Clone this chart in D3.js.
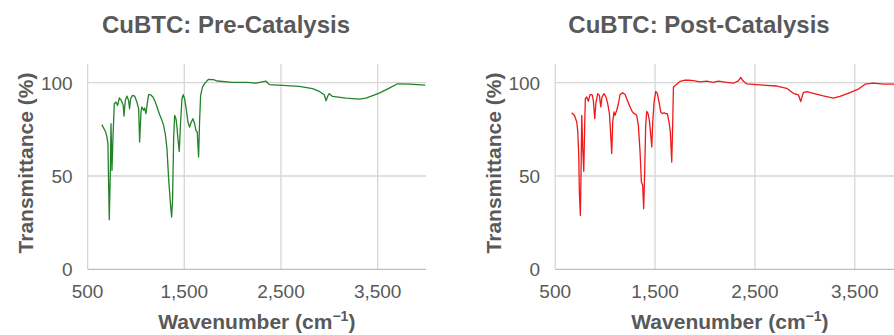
<!DOCTYPE html>
<html lang="en">
<head>
  <meta charset="UTF-8">
  <title>CuBTC FTIR</title>
  <script src="https://d3js.org/d3.v7.min.js"></script>
  <style>
    body { margin: 0; background: #fff; }
    svg { display: block; font-family: "Liberation Sans", Arial, sans-serif; }
    .grid line { stroke: #d6d6d6; stroke-width: 1.3; }
    .tick-label { fill: #595959; font-size: 19px; }
    .title { fill: #595959; font-size: 24px; font-weight: bold; }
    .axis-title { fill: #595959; font-size: 21px; font-weight: bold; }
  </style>
</head>
<body>
  <svg id="chart" width="894" height="335"></svg>

  <script>
    // tick values
    const xTicks = [500, 1500, 2500, 3500];
    const yTicks = [0, 50, 100];

    // Pre-catalysis spectrum (wavenumber, transmittance)
    const wnPre = [648, 683, 700, 710, 724, 735, 742, 752, 762, 776, 793, 810, 828, 848, 868, 876, 890, 907, 924, 934,
      945, 965, 986, 1010, 1028, 1038, 1052, 1062, 1079, 1090, 1103, 1115, 1131, 1148, 1176, 1200, 1224, 1245, 1269, 1286,
      1303, 1321, 1338, 1358, 1369, 1379, 1390, 1400, 1414, 1424, 1434, 1448, 1462, 1476, 1489, 1503, 1520, 1538, 1555, 1572,
      1589, 1607, 1620, 1634, 1648, 1658, 1669, 1689, 1717, 1751, 1803, 1838, 2000, 2155, 2241, 2345, 2379, 2517, 2689, 2827,
      2896, 2948, 2966, 2986, 2999, 3034, 3172, 3310, 3379, 3517, 3620, 3706, 3827, 3992];
    const tPre = [77.5, 74, 71, 67.3, 26.5, 52, 78, 53, 70, 88.7, 89.6, 87.8, 91.8, 90.5, 88, 82.1, 90.5, 92.8, 90.5, 86,
      91.4, 93.2, 92.8, 89.6, 86, 68.2, 84.3, 87, 85.2, 86.4, 83.4, 88, 93.6, 93.6, 92.3, 89.6, 86, 82.8, 79.8, 77.1,
      72.7, 64.6, 48.6, 34.3, 28, 37.8, 70, 82.5, 80.7, 76.2, 70, 63.2, 78.9, 91.4, 93.6, 91.4, 86, 78.9, 76.2, 78.9,
      80.7, 78, 74.4, 73.5, 60.2, 78.9, 93.2, 97.7, 100, 101.8, 101.6, 100.9, 100.2, 100.2, 99.7, 100.8, 99, 98.6, 98, 96.8,
      95.3, 93.5, 90.3, 93, 94.1, 92.6, 91.7, 91.2, 91.7, 94.4, 97.1, 99.4, 99.2, 98.7];

    // Post-catalysis spectrum
    const wnPost = [665, 692, 716, 726, 736, 742, 752, 759, 766, 776, 786, 796, 802, 816, 832, 849, 869, 882, 896, 909,
      926, 943, 956, 969, 989, 1009, 1026, 1043, 1056, 1066, 1076, 1089, 1099, 1116, 1133, 1149, 1176, 1200, 1223, 1250,
      1273, 1293, 1316, 1333, 1350, 1363, 1376, 1386, 1396, 1406, 1417, 1430, 1443, 1460, 1467, 1477, 1490, 1507, 1523, 1540,
      1557, 1573, 1590, 1607, 1623, 1640, 1653, 1667, 1677, 1684, 1717, 1750, 1800, 1834, 1883, 1950, 2017, 2083, 2134, 2217,
      2284, 2334, 2358, 2378, 2418, 2551, 2718, 2818, 2885, 2935, 2959, 2985, 3019, 3085, 3185, 3285, 3352, 3452, 3535, 3603,
      3686, 3786, 3893, 4000];
    const tPost = [83.9, 82.5, 78.9, 73.6, 61, 41.4, 28.9, 52.1, 82.5, 64.6, 52.5, 78.9, 91.4, 92.3, 90, 93.6, 93.6, 90.5, 80.7, 89.6,
      94.1, 93.2, 87, 92.3, 94.1, 92.3, 88.7, 83.4, 71.8, 62, 78.9, 84.3, 82.5, 85.2, 88.7, 93.6, 94.6, 93.6, 90.5, 87,
      84.3, 83.4, 82.5, 77.1, 62.8, 46.8, 45, 32.5, 52.1, 77.1, 84.6, 83.4, 79.8, 70, 65.5, 78.9, 89.6, 95.3, 94.1, 89.6,
      84.3, 83.4, 83.9, 83.4, 83.4, 78.9, 73.6, 57.5, 78.9, 97.7, 99.1, 100.7, 101.4, 101.3, 101.1, 100.4, 100.8, 100.2, 100.8, 100.2,
      99.7, 101, 102.8, 101.1, 99.3, 98.8, 98.2, 97, 94.3, 93.5, 89.9, 94.7, 95.2, 94.3, 92.9, 91.7, 92.6, 94.7, 96.5, 99.2,
      99.7, 99.2, 99.2, 99];

    const svg = d3.select("#chart");

    const panels = [
      { title: "CuBTC: Pre-Catalysis", wn: wnPre, t: tPre, color: "#24822a", x0: 87.6, x1: 426, dx: 0, titleX: 226 },
      { title: "CuBTC: Post-Catalysis", wn: wnPost, t: tPost, color: "#f01818", x0: 555.2, x1: 904.7, dx: 467.6, titleX: 699 }
    ];

    const yTop = 64, yBottom = 269.3;

    panels.forEach(p => {
      const x = d3.scaleLinear().domain([500, 4000]).range([p.x0, p.x1]);
      const y = d3.scaleLinear().domain([0, 110]).range([yBottom, yTop]);
      const g = svg.append("g");

      // grid
      const grid = g.append("g").attr("class", "grid");
      grid.selectAll(".vx").data(xTicks).enter().append("line")
        .attr("x1", d => x(d)).attr("x2", d => x(d))
        .attr("y1", yTop).attr("y2", yBottom);
      grid.selectAll(".hy").data(yTicks).enter().append("line")
        .attr("x1", p.x0).attr("x2", p.x1)
        .attr("y1", d => y(d)).attr("y2", d => y(d))
        .style("stroke", d => d === 0 ? "#bfbfbf" : null);

      // tick labels
      g.selectAll(".xl").data(xTicks).enter().append("text")
        .attr("class", "tick-label")
        .attr("x", d => x(d)).attr("y", 298)
        .attr("text-anchor", "middle")
        .text(d => d3.format(",")(d));
      g.selectAll(".yl").data(yTicks).enter().append("text")
        .attr("class", "tick-label")
        .attr("x", p.x0 - 15).attr("y", d => y(d) + 7)
        .attr("text-anchor", "end")
        .text(d => d);

      // spectrum
      const line = d3.line().x(d => x(d[0])).y(d => y(d[1]));
      g.append("path")
        .datum(d3.zip(p.wn, p.t))
        .attr("d", line)
        .attr("fill", "none")
        .attr("stroke", p.color)
        .attr("stroke-width", 1.3)
        .attr("stroke-linejoin", "round");

      // titles
      g.append("text").attr("class", "title")
        .attr("x", p.titleX).attr("y", 33)
        .attr("text-anchor", "middle")
        .text(p.title);

      const xt = g.append("text").attr("class", "axis-title")
        .attr("x", x(2250)).attr("y", 329)
        .attr("text-anchor", "middle");
      xt.append("tspan").text("Wavenumber (cm");
      xt.append("tspan").attr("dy", -8).style("font-size", "14px").text("\u22121");
      xt.append("tspan").attr("dy", 8).text(")");

      g.append("text").attr("class", "axis-title")
        .attr("transform", `translate(${33 + p.dx},${163}) rotate(-90)`)
        .attr("text-anchor", "middle")
        .text("Transmittance (%)");
    });
  </script>
</body>
</html>
